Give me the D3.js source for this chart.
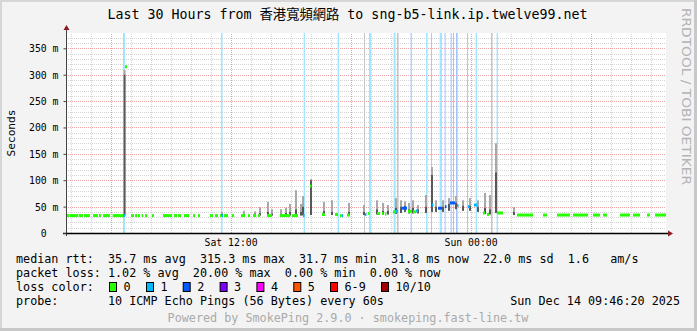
<!DOCTYPE html>
<html>
<head>
<meta charset="utf-8">
<script src="https://cdn.jsdelivr.net/npm/d3@7"></script>
<style>
  body { margin: 0; background: #f3f3f3; }
  svg { display: block; font-family: 'DejaVu Sans Mono', 'Noto Sans CJK TC', monospace; }
  .grid .domain { display: none; }
  .grid line { stroke-dasharray: 1,1; shape-rendering: crispEdges; }
  .grid.minor line { stroke: #d4d4d4; }
  .grid.major line { stroke: #eca4a4; }
  .legend text { font-size: 11.75px; fill: #000; white-space: pre; }
</style>
</head>
<body>
<script>
// window: Sat Dec 13 03:46:20 -> Sun Dec 14 09:46:20 (30 hours)
// all times below are hours since the start of the window

// median rtt segments: [fromHour, toHour, ms, lost pings]
var medians = [
  [0.05, 0.18, 33, 0], [0.20, 0.60, 33, 0], [0.63, 0.85, 33, 0], [0.90, 1.20, 33, 0],
  [1.35, 1.60, 33, 0], [1.65, 1.75, 33, 0], [1.85, 2.20, 33, 0], [2.33, 2.85, 33, 0],
  [2.85, 2.95, 33, 1], [2.95, 3.05, 315, 0],
  [3.25, 3.40, 33, 0], [3.45, 3.55, 33, 0], [3.60, 3.70, 33, 0], [3.78, 3.85, 33, 0],
  [3.95, 4.05, 33, 0], [4.30, 4.40, 33, 0], [4.85, 5.30, 33, 0], [5.40, 5.55, 33, 0],
  [5.60, 5.75, 33, 0], [5.90, 6.15, 33, 0], [6.35, 6.45, 33, 0], [6.60, 6.70, 33, 0],
  [7.20, 7.35, 33, 0], [7.45, 7.60, 33, 0], [7.70, 7.78, 33, 0], [7.78, 7.85, 33, 1],
  [7.90, 8.10, 33, 0], [8.30, 8.40, 33, 0], [8.75, 8.95, 33, 0], [9.10, 9.20, 33, 0],
  [9.35, 9.50, 33, 0], [9.60, 9.70, 33, 0], [10.05, 10.30, 33, 0],
  [10.70, 11.20, 33, 0], [11.30, 11.60, 33, 0], [11.85, 11.93, 33, 1],
  [12.20, 12.25, 89, 0], [12.80, 12.95, 35, 0], [13.45, 13.60, 35, 0],
  [13.70, 13.78, 33, 0], [13.78, 13.85, 33, 1], [14.05, 14.20, 34, 0],
  [14.95, 15.00, 35, 1], [15.10, 15.15, 37, 0], [15.55, 15.70, 37, 0],
  [15.80, 15.85, 37, 0], [15.95, 16.00, 36, 0], [16.35, 16.50, 40, 0],
  [16.50, 16.60, 41, 1], [16.80, 17.05, 47, 2], [17.10, 17.30, 41, 0],
  [17.35, 17.50, 40, 0], [17.50, 17.60, 42, 1], [18.30, 18.35, 53, 1],
  [18.60, 18.80, 47, 2], [18.95, 19.00, 50, 2], [19.20, 19.45, 57, 2],
  [19.55, 19.60, 52, 1], [20.10, 20.15, 50, 1], [20.40, 20.55, 53, 1],
  [20.85, 20.95, 38, 0], [21.05, 21.15, 35, 0], [21.55, 21.85, 38, 0],
  [22.55, 23.35, 34, 0], [23.85, 24.05, 34, 0], [24.55, 25.20, 34, 0],
  [25.35, 26.10, 34, 0], [26.35, 26.70, 34, 0], [26.85, 27.05, 34, 0],
  [27.70, 28.20, 34, 0], [28.35, 28.70, 34, 0], [29.05, 29.20, 34, 0],
  [29.45, 30.00, 34, 0]
];

// smoke columns: [hour, low ms, middle ms, high ms]
var smoke = [
  [2.88, 33, 300, 309], [7.75, 33, 36, 40], [8.85, 33, 36, 42], [9.40, 33, 37, 41],
  [9.65, 33, 38, 49], [10.05, 33, 40, 59], [10.25, 33, 37, 45], [10.70, 33, 36, 45],
  [10.95, 34, 38, 48], [11.15, 33, 40, 55], [11.45, 34, 45, 81], [11.70, 33, 40, 55],
  [11.80, 33, 50, 70], [12.20, 34, 100, 102], [12.85, 34, 42, 59], [13.25, 34, 40, 62],
  [14.10, 34, 40, 57], [14.85, 34, 40, 53], [15.50, 35, 45, 62], [15.80, 35, 42, 57],
  [16.05, 35, 42, 53], [16.45, 36, 48, 66], [16.70, 38, 50, 62], [16.90, 40, 52, 60],
  [17.10, 37, 45, 57], [17.30, 37, 48, 62], [17.55, 37, 45, 53], [17.95, 38, 50, 72],
  [18.25, 40, 110, 125], [18.45, 40, 50, 62], [18.80, 40, 50, 62], [19.10, 42, 55, 66],
  [19.45, 45, 58, 70], [19.80, 42, 52, 62], [20.15, 42, 52, 66], [20.55, 40, 50, 62],
  [20.90, 36, 48, 76], [21.15, 35, 45, 72], [21.45, 38, 115, 170], [22.35, 34, 40, 49]
];

// loss periods shown as full height bars: [fromHour, toHour, lost pings]
var lossBars = [
  [2.85, 2.95, 1], [7.75, 7.83, 1], [11.88, 11.95, 1], [13.58, 13.65, 1],
  [15.15, 15.25, 1], [16.38, 16.48, 1], [17.23, 17.28, 2], [18.00, 18.08, 1],
  [18.68, 18.80, 1], [18.93, 18.98, 2], [19.23, 19.28, 2], [19.35, 19.40, 2],
  [19.50, 19.58, 2], [20.48, 20.55, 1], [21.53, 21.60, 1]
];

// periods without a result
var unknownBars = [
  [14.90, 14.95], [16.55, 16.63], [18.25, 18.30], [20.05, 20.10], [21.25, 21.33]
];

var yTicks = [0, 50, 100, 150, 200, 250, 300, 350];

var lossLabels = ['0', '1', '2', '3', '4', '5', '6-9', '10/10'];
var lossColors = ['#26ff00', '#00b8ff', '#0059ff', '#7e00ff', '#ff00ff', '#ff5500', '#ff0000', '#a10000'];

var titleText = 'Last 30 Hours from 香港寬頻網路 to sng-b5-link.ip.twelve99.net';
var rttLine   = 'median rtt:  35.7 ms avg  315.3 ms max  31.7 ms min  31.8 ms now  22.0 ms sd  1.6   am/s';
var lossLine  = 'packet loss: 1.02 % avg  20.00 % max  0.00 % min  0.00 % now';
var probeText = '10 ICMP Echo Pings (56 Bytes) every 60s';
var stampText = 'Sun Dec 14 09:46:20 2025';
var footText  = 'Powered by SmokePing 2.9.0 · smokeping.fast-line.tw';

var start = new Date(2025, 11, 13, 3, 46, 20),
    end   = new Date(2025, 11, 14, 9, 46, 20);

function at (h) { return new Date(start.getTime() + h * 36e5); }

var svgWidth = 697, svgHeight = 331,
    plot = { left: 66, top: 33, width: 600, height: 200 },
    bottom = plot.top + plot.height;

var x = d3.scaleTime().domain([start, end]).range([plot.left, plot.left + plot.width]);
var y = d3.scaleLinear().domain([0, 379]).range([bottom, plot.top]);

var svg = d3.select('body').append('svg')
  .attr('width', svgWidth)
  .attr('height', svgHeight);

// frame
svg.append('rect').attr('width', svgWidth).attr('height', svgHeight).attr('fill', '#f3f3f3');
svg.append('rect').attr('width', svgWidth).attr('height', 2).attr('fill', '#d6d6d6');
svg.append('rect').attr('width', 2).attr('height', svgHeight).attr('fill', '#d6d6d6');
svg.append('rect').attr('x', svgWidth - 3).attr('width', 3).attr('height', svgHeight).attr('fill', '#c8c8c8');
svg.append('rect').attr('y', svgHeight - 3).attr('width', svgWidth).attr('height', 3).attr('fill', '#c8c8c8');

svg.append('rect')
  .attr('x', plot.left).attr('y', plot.top)
  .attr('width', plot.width).attr('height', plot.height)
  .attr('fill', '#ffffff');

// grid
var hours = d3.timeHour.range(d3.timeHour.ceil(start), end);

svg.append('g')
  .attr('class', 'grid minor')
  .attr('transform', 'translate(0,' + bottom + ')')
  .call(d3.axisBottom(x).tickValues(hours.filter(function (d) { return d.getHours() % 6; }))
    .tickSize(-plot.height).tickFormat(''));

svg.append('g')
  .attr('class', 'grid minor')
  .attr('transform', 'translate(' + plot.left + ',0)')
  .call(d3.axisLeft(y).tickValues(d3.range(10, 379, 10).filter(function (d) { return d % 50; }))
    .tickSize(-plot.width).tickFormat(''));

svg.append('g')
  .attr('class', 'grid major')
  .attr('transform', 'translate(0,' + bottom + ')')
  .call(d3.axisBottom(x).tickValues(hours.filter(function (d) { return d.getHours() % 6 === 0; }))
    .tickSize(-plot.height).tickFormat(''));

svg.append('g')
  .attr('class', 'grid major')
  .attr('transform', 'translate(' + plot.left + ',0)')
  .call(d3.axisLeft(y).tickValues(yTicks.slice(1)).tickSize(-plot.width).tickFormat(''));

// loss and unknown bars
svg.append('g').selectAll('rect')
  .data(unknownBars)
  .join('rect')
    .attr('x', function (d) { return x(at(d[0])); })
    .attr('width', function (d) { return x(at(d[1])) - x(at(d[0])); })
    .attr('y', plot.top)
    .attr('height', plot.height)
    .attr('fill', '#c6c6c6');

svg.append('g').selectAll('rect')
  .data(lossBars)
  .join('rect')
    .attr('x', function (d) { return x(at(d[0])); })
    .attr('width', function (d) { return x(at(d[1])) - x(at(d[0])); })
    .attr('y', plot.top)
    .attr('height', plot.height)
    .attr('fill', function (d) { return d3.interpolateRgb('#ffffff', lossColors[d[2]])(0.36); });

// smoke
var step = 0.1;
var smokeG = svg.append('g');
smokeG.selectAll('rect.hi')
  .data(smoke)
  .join('rect')
    .attr('class', 'hi')
    .attr('x', function (d) { return x(at(d[0])); })
    .attr('width', function (d) { return x(at(d[0] + step)) - x(at(d[0])); })
    .attr('y', function (d) { return y(d[3]); })
    .attr('height', function (d) { return y(d[2]) - y(d[3]); })
    .attr('fill', '#a8a8a8');
smokeG.selectAll('rect.lo')
  .data(smoke)
  .join('rect')
    .attr('class', 'lo')
    .attr('x', function (d) { return x(at(d[0])); })
    .attr('width', function (d) { return x(at(d[0] + step)) - x(at(d[0])); })
    .attr('y', function (d) { return y(d[2]); })
    .attr('height', function (d) { return y(d[1]) - y(d[2]); })
    .attr('fill', '#585858');

// median
svg.append('g').selectAll('rect')
  .data(medians)
  .join('rect')
    .attr('x', function (d) { return x(at(d[0])); })
    .attr('width', function (d) { return Math.max(1.5, x(at(d[1])) - x(at(d[0]))); })
    .attr('y', function (d) { return y(d[2]) - 1.5; })
    .attr('height', 3)
    .attr('fill', function (d) { return lossColors[d[3]]; });

// axes
svg.append('line')
  .attr('x1', plot.left + 0.5).attr('x2', plot.left + 0.5)
  .attr('y1', bottom + 3).attr('y2', plot.top - 4)
  .attr('stroke', '#444');
svg.append('line')
  .attr('x1', plot.left - 3).attr('x2', plot.left + plot.width + 3)
  .attr('y1', bottom + 0.5).attr('y2', bottom + 0.5)
  .attr('stroke', '#000').attr('stroke-width', 1.5);
svg.append('path')
  .attr('d', 'M' + (plot.left - 2.5) + ',' + (plot.top - 3) + 'l3,-5l3,5z')
  .attr('fill', '#8b1a1a');
svg.append('path')
  .attr('d', 'M' + (plot.left + plot.width + 2) + ',' + (bottom - 2.5) + 'l5,3l-5,3z')
  .attr('fill', '#8b1a1a');

var yAxis = svg.append('g')
  .attr('transform', 'translate(' + (plot.left + 0.5) + ',0)')
  .call(d3.axisLeft(y).tickValues(yTicks).tickSize(3).tickPadding(5)
    .tickFormat(function (d) { return d ? d + ' m' : '0'; }))
  .attr('font-family', null)
  .attr('font-size', null);
yAxis.select('.domain').remove();
yAxis.selectAll('line').attr('stroke', '#444');
yAxis.selectAll('text')
  .attr('font-size', '9.8px')
  .attr('fill', '#000')
  .attr('dy', '0.36em')
  .attr('dx', function (d) { return d ? 0 : -11.8; });

var xAxis = svg.append('g')
  .attr('transform', 'translate(0,' + bottom + ')')
  .call(d3.axisBottom(x).tickValues(hours.filter(function (d) { return d.getHours() % 12 === 0; }))
    .tickSize(0).tickPadding(5).tickFormat(d3.timeFormat('%a %H:%M')))
  .attr('font-family', null)
  .attr('font-size', null);
xAxis.select('.domain').remove();
xAxis.selectAll('text')
  .attr('font-size', '9.8px')
  .attr('fill', '#000')
  .attr('y', 12.5)
  .attr('dy', null);

// titles
svg.append('text')
  .attr('x', 347.5).attr('y', 19)
  .attr('text-anchor', 'middle')
  .attr('font-size', '13.3px')
  .text(titleText);

svg.append('text')
  .attr('transform', 'translate(15,133) rotate(-90)')
  .attr('text-anchor', 'middle')
  .attr('font-size', '11.2px')
  .text('Seconds');

svg.append('text')
  .attr('transform', 'translate(682,8) rotate(90)')
  .attr('font-family', 'DejaVu Sans')
  .attr('font-size', '12px')
  .attr('fill', '#b4b4b4')
  .attr('textLength', 177)
  .attr('lengthAdjust', 'spacingAndGlyphs')
  .text('RRDTOOL / TOBI OETIKER');

// legend
var legend = svg.append('g').attr('class', 'legend');
var rows = [263, 277, 291, 305];

function put (txt, px, py, anchor) {
  return legend.append('text').attr('x', px).attr('y', py)
    .attr('text-anchor', anchor || 'start').text(txt);
}

put(rttLine, 16, rows[0]);
put(lossLine, 16, rows[1]);

put('loss color:', 16, rows[2]);
[109, 146, 182.7, 219.6, 256.4, 293.3, 330, 381].forEach(function (px, i) {
  legend.append('rect')
    .attr('x', px + 0.5).attr('y', rows[2] - 8.5)
    .attr('width', 7).attr('height', 9)
    .attr('fill', lossColors[i])
    .attr('stroke', '#000');
  put(lossLabels[i], px + 14.5, rows[2]);
});

put('probe:', 16, rows[3]);
put(probeText, 108, rows[3]);
put(stampText, 680, rows[3], 'end');

put(footText, 348, 322, 'middle').style('fill', '#aaaaaa');
</script>
</body>
</html>
